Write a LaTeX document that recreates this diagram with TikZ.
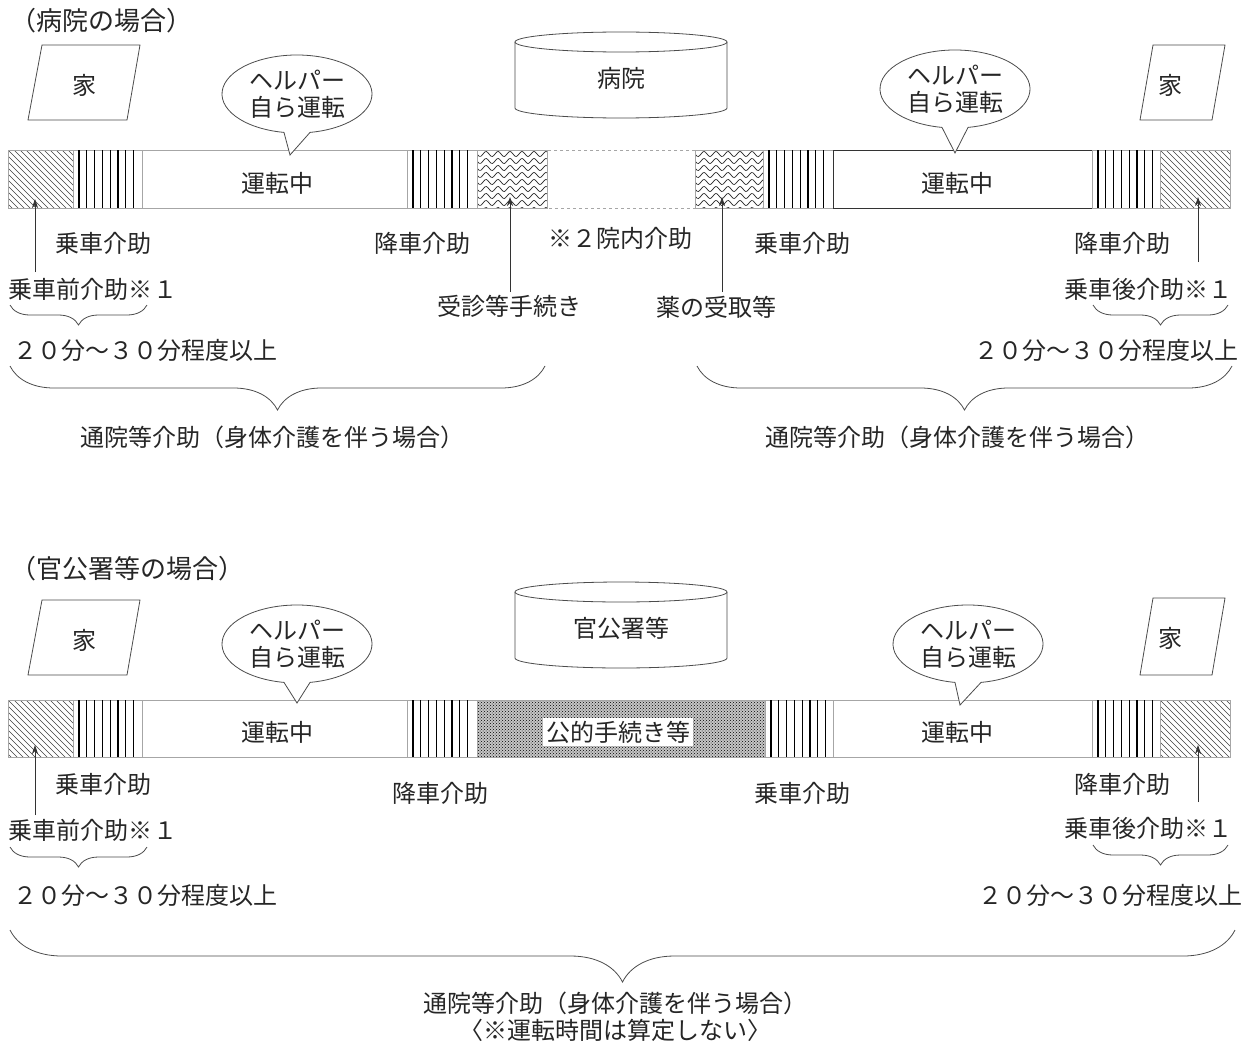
\documentclass[tikz,border=0pt]{standalone}
\usepackage{fontspec}
\setmainfont{Noto Sans CJK JP}
\usetikzlibrary{decorations.pathreplacing,patterns,calc,arrows.meta}

\tikzset{
 seg/.style={draw=gray!70, line width=0.7pt},
 hatchline/.style={line width=0.6pt, black!75},
 stripeline/.style={line width=1.1pt, black},
 waveline/.style={line width=0.7pt, black!85},
 lbl/.style={font=\fontsize{24}{27}\selectfont, inner sep=0pt, text=black!85},
 ttl/.style={font=\fontsize{26}{28}\selectfont, inner sep=0pt, text=black!85},
 arr/.style={-{Stealth[length=9pt,width=6pt]}, line width=0.7pt, black!80},
 brc/.style={decorate, decoration={brace, amplitude=#1, mirror}, line width=0.8pt, black!70},
 house/.style={draw=black!70, line width=0.8pt},
 bubble/.style={draw=black!70, fill=white, line width=0.8pt},
}

\newcommand\hatchblock[4]{%
 \begin{scope}\clip (#1,#2) rectangle (#3,#4);
 \foreach \k in {-66,-60,...,72} \draw[hatchline] (#1+\k,#2) -- ++(66,66);
 \end{scope}\draw[seg] (#1,#2) rectangle (#3,#4);}
\newcommand\stripeblock[4]{%
 \draw[seg] (#1,#2) rectangle (#3,#4);
 \foreach \i in {0,...,7} \draw[stripeline] ({#1+6+7.8*\i},#2) -- ({#1+6+7.8*\i},#4);}
\newcommand\waveblock[4]{%
 \begin{scope}\clip (#1,#2) rectangle (#3,#4);
 \foreach \r in {4,11,...,60} \draw[waveline,domain=#1:#3,samples=60,variable=\t] plot (\t,{#2+\r+2.5*sin((\t-#1)*30)});
 \end{scope}\draw[seg] (#1,#2) rectangle (#3,#4);}
\newcommand\mybub[5]{%
 \draw[bubble] (#4,#5) -- ($(#2,#3)+(100:75 and 39)$) arc[start angle=100,end angle=440,x radius=75,y radius=39] -- cycle;
 \node[lbl, align=center] (#1) at (#2,#3) {ヘルパー\\自ら運転};}
\newcommand\mycyl[4]{%
 \draw[house] (#2,#3+10) ellipse[x radius=106,y radius=10];
 \draw[house] (#2-106,#3+10) -- (#2-106,#3+76) arc[start angle=180,end angle=0,x radius=106,y radius=10] -- (#2+106,#3+10);
 \node[lbl] (#1) at (#2,#3+46) {#4};}

\begin{document}
\begin{tikzpicture}[x=1pt,y=-1pt]
\useasboundingbox[fill=white] (0,0) rectangle (1246,1046);

% ===================== top: hospital =====================
\node[ttl, anchor=west] (title1) at (10,21) {（病院の場合）};

\draw[house] (28,120) -- (42,45) -- (140,45) -- (127,120) -- cycle;
\node[lbl] (home1) at (84,85) {家};
\draw[house] (1140,120) -- (1153,45) -- (1225,45) -- (1212,120) -- cycle;
\node[lbl] (home2) at (1170,85) {家};

\mycyl{hosp}{621}{32}{病院}

% bar
\hatchblock{8}{150}{73}{208}
\stripeblock{73}{150}{142}{208}
\draw[seg] (142,150) rectangle (407,208);
\node[lbl] (drive1) at (277,183) {運転中};
\stripeblock{407}{150}{477}{208}
\waveblock{477}{150}{547}{208}
\draw[seg, dashed] (547,150) rectangle (695,208);
\waveblock{695}{150}{763}{208}
\stripeblock{763}{150}{833}{208}
\draw[seg, draw=black!80] (833,150) rectangle (1092,208);
\node[lbl] (drive2) at (957,183) {運転中};
\stripeblock{1092}{150}{1160}{208}
\hatchblock{1160}{150}{1230}{208}

\mybub{bub1}{297}{94}{290}{155}
\mybub{bub2}{955}{89}{955}{153}

% labels
\node[lbl] (ride1) at (103,243) {乗車介助};
\node[lbl] (alight1) at (422,243) {降車介助};
\node[lbl] (inhosp) at (620,238) {※２院内介助};
\node[lbl] (ride2) at (802,243) {乗車介助};
\node[lbl] (alight2) at (1122,243) {降車介助};
\node[lbl] (pre1) at (93,289) {乗車前介助※１};
\node[lbl] (consult) at (509,306) {受診等手続き};
\node[lbl] (medicine) at (716,307) {薬の受取等};
\node[lbl] (post1) at (1148,289) {乗車後介助※１};
\node[lbl] (time1) at (145,350) {２０分～３０分程度以上};
\node[lbl] (time2) at (1106,350) {２０分～３０分程度以上};
\node[lbl] (sum1) at (272,437) {通院等介助（身体介護を伴う場合）};
\node[lbl] (sum2) at (957,437) {通院等介助（身体介護を伴う場合）};

% arrows
\coordinate (a1s) at (35,272); \coordinate (a1e) at (35,199);
\coordinate (a2s) at (510,292); \coordinate (a2e) at (510,197);
\coordinate (a3s) at (722,292); \coordinate (a3e) at (722,197);
\coordinate (a4s) at (1198,262); \coordinate (a4e) at (1198,197);
\draw[arr] (a1s) -- (a1e);
\draw[arr] (a2s) -- (a2e);
\draw[arr] (a3s) -- (a3e);
\draw[arr] (a4s) -- (a4e);

% braces
\draw[brc=20pt] (10,305) -- (147,305);
\draw[brc=20pt] (1093,305) -- (1228,305);
\draw[brc=44pt] (10,366) -- (545,366);
\draw[brc=44pt] (697,366) -- (1232,366);

% ===================== bottom: public office =====================
\node[ttl, anchor=west] (title2) at (10,569) {（官公署等の場合）};

\draw[house] (28,675) -- (42,600) -- (140,600) -- (127,675) -- cycle;
\node[lbl] (home3) at (84,640) {家};
\draw[house] (1140,675) -- (1153,598) -- (1225,598) -- (1212,675) -- cycle;
\node[lbl] (home4) at (1170,638) {家};

\mycyl{office}{621}{582}{官公署等}

\hatchblock{8}{700}{73}{757}
\stripeblock{73}{700}{142}{757}
\draw[seg] (142,700) rectangle (407,757);
\node[lbl] (drive3) at (277,732) {運転中};
\stripeblock{407}{700}{477}{757}
\fill[gray!45] (477,700) rectangle (765,757);
\fill[pattern=crosshatch dots, pattern color=black] (477,700) rectangle (765,757);
\draw[seg] (477,700) rectangle (765,757);
\node[lbl, fill=white, inner sep=3pt] (public) at (618,732) {公的手続き等};
\stripeblock{765}{700}{833}{757}
\draw[seg] (833,700) rectangle (1092,757);
\node[lbl] (drive4) at (957,732) {運転中};
\stripeblock{1092}{700}{1160}{757}
\hatchblock{1160}{700}{1230}{757}

\mybub{bub3}{297}{644}{297}{703}
\mybub{bub4}{968}{644}{960}{705}

\node[lbl] (ride3) at (103,784) {乗車介助};
\node[lbl] (alight3) at (440,793) {降車介助};
\node[lbl] (ride4) at (802,793) {乗車介助};
\node[lbl] (alight4) at (1122,784) {降車介助};
\node[lbl] (pre2) at (93,830) {乗車前介助※１};
\node[lbl] (post2) at (1148,828) {乗車後介助※１};
\node[lbl] (time3) at (145,895) {２０分～３０分程度以上};
\node[lbl] (time4) at (1110,895) {２０分～３０分程度以上};
\node[lbl] (sum3) at (615,1003) {通院等介助（身体介護を伴う場合）};
\node[lbl] (note) at (615,1030) {〈※運転時間は算定しない〉};

\coordinate (b1s) at (35,815); \coordinate (b1e) at (35,745);
\coordinate (b2s) at (1198,802); \coordinate (b2e) at (1198,745);
\draw[arr] (b1s) -- (b1e);
\draw[arr] (b2s) -- (b2e);

\draw[brc=20pt] (10,847) -- (147,847);
\draw[brc=20pt] (1093,845) -- (1228,845);
\draw[brc=52pt] (10,930) -- (1235,930);
\end{tikzpicture}
\end{document}
